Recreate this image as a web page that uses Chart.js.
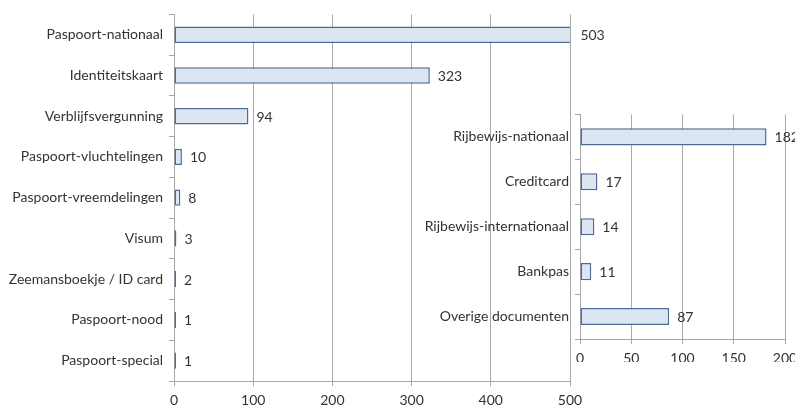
<!DOCTYPE html>
<html>
<head>
<meta charset="utf-8">
<script src="https://cdn.jsdelivr.net/npm/chart.js@4/dist/chart.umd.min.js"></script>
<style>
  html, body { margin: 0; padding: 0; background: #fff; overflow: hidden; width: 795px; height: 405px; }
  #mainChart { position: absolute; left: 0; top: 0; }
  #insetChart { position: absolute; left: 410px; top: 100px; }
</style>
</head>
<body>
<canvas id="mainChart" width="795" height="405"></canvas>
<canvas id="insetChart" width="420" height="262"></canvas>
<script>
// Hoofdgrafiek: reisdocumenten
var mainLabels = ['Paspoort-nationaal', 'Identiteitskaart', 'Verblijfsvergunning', 'Paspoort-vluchtelingen',
    'Paspoort-vreemdelingen', 'Visum', 'Zeemansboekje / ID card', 'Paspoort-nood', 'Paspoort-special'];
var mainValues = [503, 323, 94, 10, 8, 3, 2, 1, 1];
var mainTicks = [0, 100, 200, 300, 400, 500];

// Inzet: overige documenten
var insetLabels = ['Rijbewijs-nationaal', 'Creditcard', 'Rijbewijs-internationaal', 'Bankpas', 'Overige documenten'];
var insetValues = [182, 17, 14, 11, 87];
var insetTicks = [0, 50, 100, 150, 200];

var FONT = { family: 'Lato, "Open Sans", sans-serif', size: 14 };
var TEXT = '#333333';
var GRID = '#a8a8a8';
var BAR_FILL = '#dce6f2';
var BAR_EDGE = '#4f6a94';

var valueLabels = {
    id: 'valueLabels',
    afterDatasetsDraw: function (chart) {
        var ctx = chart.ctx;
        var meta = chart.getDatasetMeta(0);
        ctx.save();
        ctx.font = FONT.size + 'px ' + FONT.family;
        ctx.fillStyle = TEXT;
        ctx.textBaseline = 'middle';
        ctx.textAlign = 'left';
        meta.data.forEach(function (bar, i) {
            ctx.fillText(chart.data.datasets[0].data[i], bar.x + 8, bar.y + 1);
        });
        ctx.restore();
    }
};

function makeChart(id, labels, values, ticks, yWidth, xHeight, padding, thickness) {
    var ctx = document.getElementById(id).getContext('2d');
    return new Chart(ctx, {
        type: 'bar',
        data: {
            labels: labels,
            datasets: [{
                data: values,
                backgroundColor: BAR_FILL,
                borderColor: BAR_EDGE,
                borderWidth: 1.5,
                borderSkipped: false,
                minBarLength: 2,
                barPercentage: thickness,
                categoryPercentage: 1
            }]
        },
        options: {
            indexAxis: 'y',
            responsive: false,
            animation: false,
            devicePixelRatio: 1,
            layout: { padding: padding },
            plugins: { legend: { display: false }, tooltip: { enabled: false } },
            scales: {
                x: {
                    min: 0,
                    max: ticks[ticks.length - 1],
                    afterBuildTicks: function (scale) {
                        scale.ticks = ticks.map(function (v) { return { value: v }; });
                    },
                    afterFit: function (scale) { scale.height = xHeight; },
                    grid: { color: GRID, tickColor: GRID, tickLength: 5, lineWidth: 1 },
                    border: { color: GRID },
                    ticks: { font: FONT, color: TEXT, padding: 6, maxRotation: 0 }
                },
                y: {
                    afterFit: function (scale) { scale.width = yWidth; },
                    grid: { offset: true, drawOnChartArea: false, color: GRID, tickColor: GRID, tickLength: 5 },
                    border: { color: GRID },
                    ticks: { font: FONT, color: TEXT, padding: 6, autoSkip: false }
                }
            }
        },
        plugins: [valueLabels]
    });
}

makeChart('mainChart', mainLabels, mainValues, mainTicks, 174, 24, { left: 0, right: 225, top: 11, bottom: 0 }, 0.4);
makeChart('insetChart', insetLabels, insetValues, insetTicks, 170, 23, { left: 0, right: 45, top: 14, bottom: 0 }, 0.38);
</script>
</body>
</html>
